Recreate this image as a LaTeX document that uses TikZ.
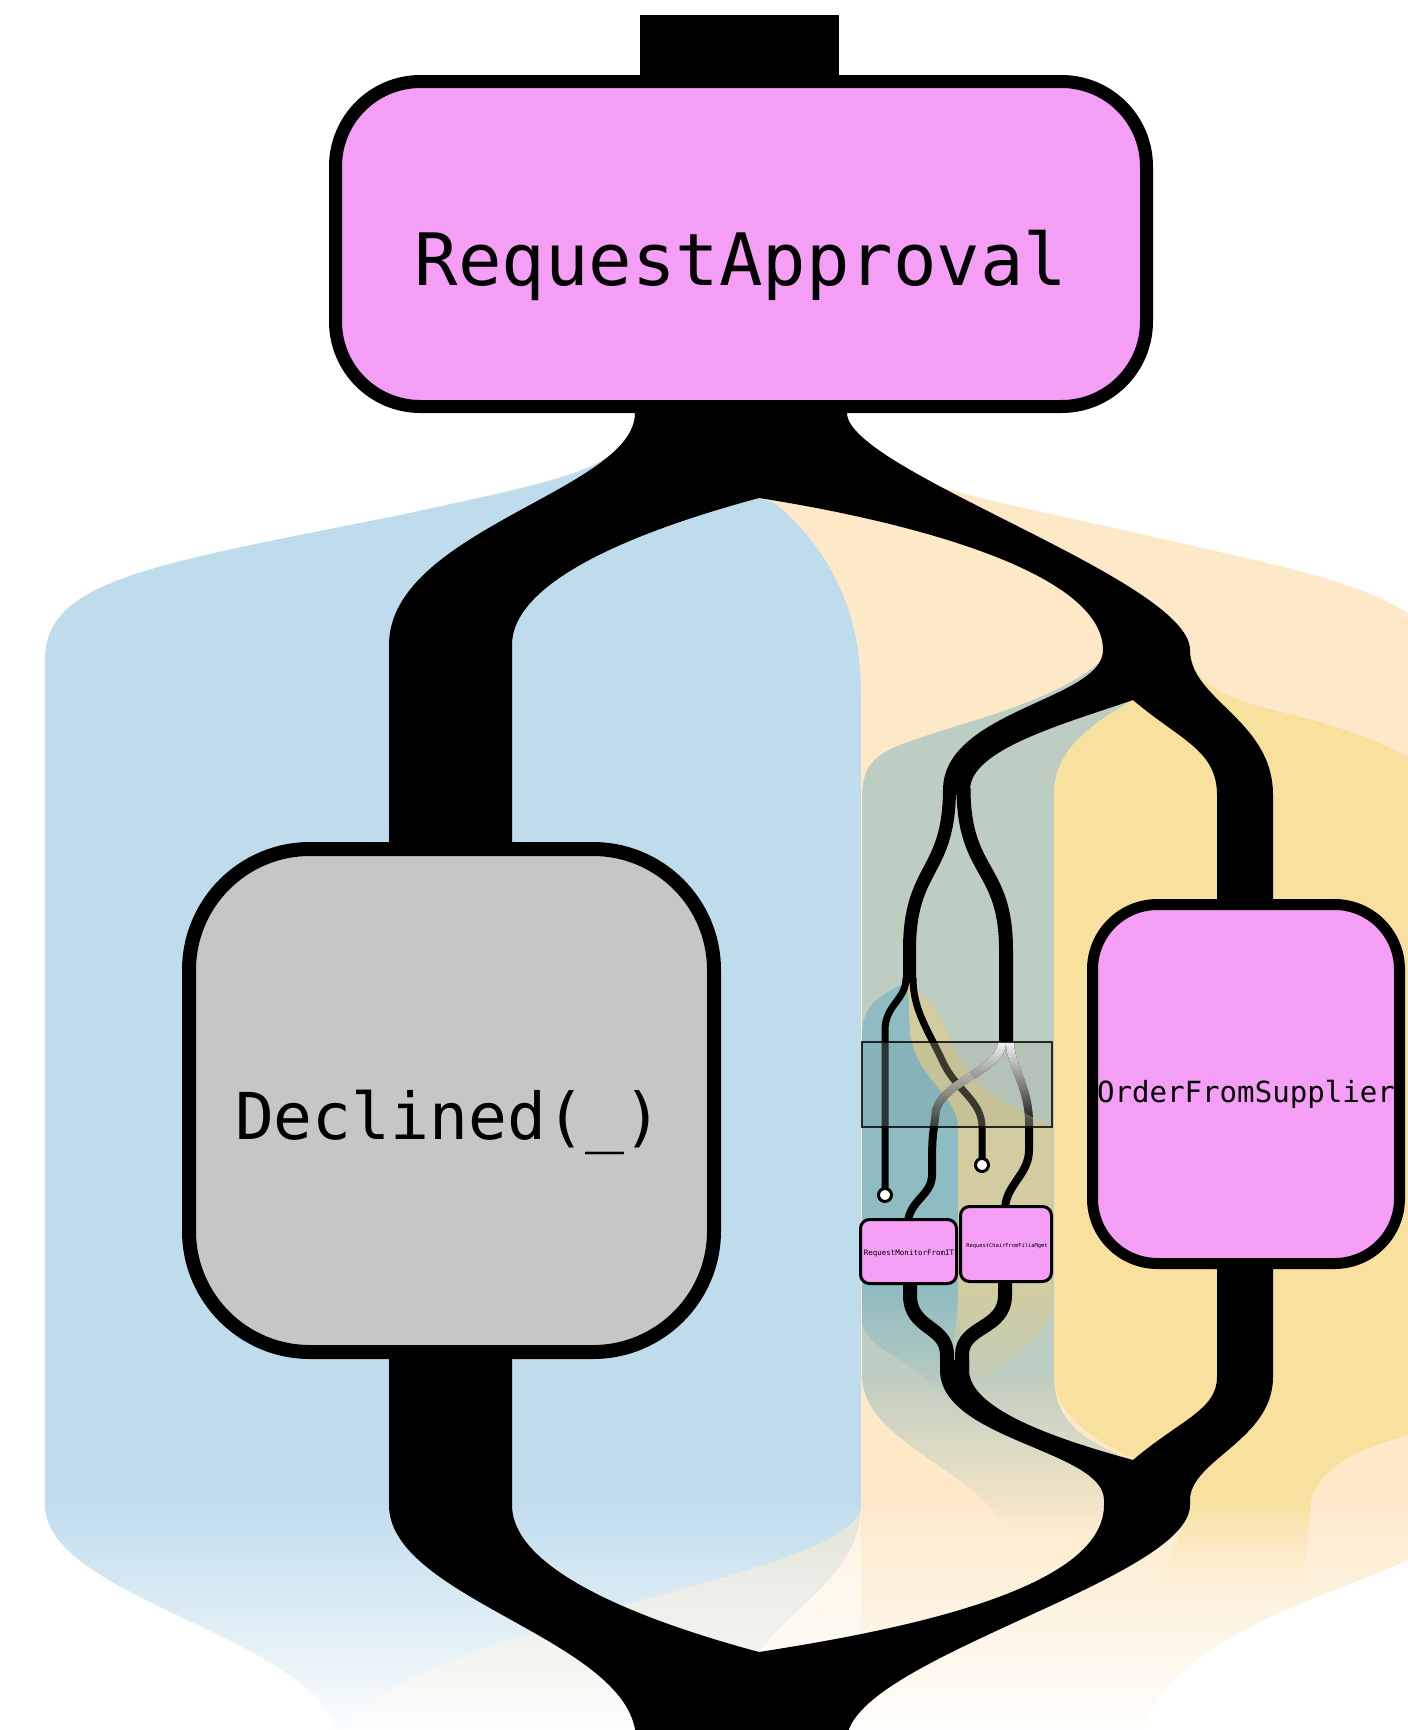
\documentclass[tikz,border=0pt]{standalone}
\usepackage{fontspec}
\newfontfamily\lblfont{DejaVu Sans Mono}
\usetikzlibrary{fadings}
\definecolor{laneblue}{RGB}{191,220,236}
\definecolor{laneorange}{RGB}{253,233,200}
\definecolor{lanegg}{RGB}{190,205,193}
\definecolor{laneyellow}{RGB}{248,224,158}
\definecolor{laneteal}{RGB}{143,188,194}
\definecolor{lanekhaki}{RGB}{210,204,160}
\definecolor{boxpink}{RGB}{245,158,245}
\definecolor{boxgray}{RGB}{198,198,198}
\tikzfading[name=fadeS, top color=transparent!0, bottom color=transparent!100]
\tikzfading[name=fadeN, top color=transparent!100, bottom color=transparent!6]
\begin{document}
\begin{tikzpicture}[x=1pt,y=-1pt,
  flow/.style={fill=black},
  wire/.style={draw=black,line cap=butt},
  pinkbox/.style={draw=black,fill=boxpink,rectangle,inner sep=0},
  graybox/.style={draw=black,fill=boxgray,rectangle,inner sep=0},
  dotnode/.style={circle,draw=black,fill=white,line width=3,minimum size=13,inner sep=0},
  lbl/.style={anchor=base,inner sep=0,text=black}]
\useasboundingbox (0,0) rectangle (1408,1730);
\begin{scope}
\clip (0,0) rectangle (1408,1730);
% blue lane
\fill[laneblue] (759,405) -- (635,405) -- (635,413) .. controls (630,470) and (560,480) .. (400,515) .. controls (150,565) and (45,580) .. (45,660) -- (45,1505) .. controls (45,1600) and (330,1640) .. (337,1740) -- (759,1740) -- (759,1652) .. controls (800,1600) and (861,1570) .. (861,1505) -- (861,690) .. controls (861,600) and (820,540) .. (775,503) -- (759,498) -- cycle;
% orange lane
\fill[laneorange] (759,405) -- (847,405) -- (847,413) .. controls (850,480) and (950,490) .. (1167,540) .. controls (1320,575) and (1408,590) .. (1460,660) -- (1460,1535) -- (1408,1560) .. controls (1320,1600) and (1160,1640) .. (1141,1740) -- (861,1740) -- (861,690) .. controls (861,600) and (820,540) .. (775,503) -- (759,498) -- cycle;
\fill[laneorange, opacity=0.55] (861,1505) .. controls (861,1580) and (400,1620) .. (337,1740) -- (861,1740) -- cycle;
% grey-green lane
\fill[lanegg] (1133,700) -- (1100,662) .. controls (1050,705) and (950,725) .. (900,745) .. controls (870,757) and (862,770) .. (862,800) -- (862,1375) -- (1054,1375) -- (1054,795) .. controls (1054,750) and (1090,725) .. (1133,700) -- cycle;
\fill[lanegg, path fading=fadeS] (862,1374) .. controls (862,1440) and (960,1460) .. (1010,1530) -- (1150,1530) -- (1133,1460) .. controls (1080,1440) and (1054,1420) .. (1054,1374) -- cycle;
% yellow lane
\fill[laneyellow] (1133,700) .. controls (1090,725) and (1054,750) .. (1054,795) -- (1054,1374) .. controls (1054,1420) and (1100,1440) .. (1133,1460) -- (1190,1505) -- (1310,1505) .. controls (1315,1470) and (1360,1440) .. (1460,1425) -- (1460,790) .. controls (1420,760) and (1380,740) .. (1320,722) .. controls (1260,705) and (1200,700) .. (1190,655) -- cycle;
\fill[laneyellow, path fading=fadeS] (1190,1504) -- (1311,1504) .. controls (1308,1540) and (1305,1560) .. (1300,1590) -- (1160,1590) -- cycle;
% teal lane
\fill[laneteal] (907,982) .. controls (880,995) and (862,1005) .. (862,1035) -- (862,1290) -- (958,1290) -- (958,1127) .. controls (958,1095) and (912,1075) .. (910,1030) -- (908,982) -- cycle;
\fill[laneteal, path fading=fadeS] (862,1289) -- (862,1320) .. controls (862,1350) and (920,1360) .. (945,1400) -- (975,1400) .. controls (965,1350) and (958,1330) .. (958,1289) -- cycle;
% khaki lane
\fill[lanekhaki] (908,982) -- (910,1030) .. controls (912,1075) and (958,1095) .. (958,1127) -- (958,1290) -- (1052,1290) -- (1052,1125) .. controls (1000,1105) and (965,1080) .. (950,1040) .. controls (940,1010) and (925,995) .. (910,982) -- cycle;
\fill[lanekhaki, path fading=fadeS] (958,1289) .. controls (958,1330) and (950,1350) .. (940,1400) -- (975,1400) .. controls (1000,1360) and (1052,1340) .. (1052,1300) -- (1052,1289) -- cycle;
% bottom fade
\fill[white, path fading=fadeN] (0,1495) rectangle (1408,1730);
\end{scope}
% black flows
\fill[flow] (640,15) rectangle (839,90);
\fill[flow] (635,405) -- (635,413) .. controls (635,490) and (389,530) .. (389,645) -- (389,850) -- (512,850) -- (512,645) .. controls (512,580) and (640,530) .. (759,498) -- (759,405) -- cycle;
\fill[flow] (759,405) -- (759,498) .. controls (900,520) and (1103,570) .. (1103,650) .. controls (1103,700) and (943,710) .. (943,790) -- (943,795) -- (970,795) -- (970,790) .. controls (970,750) and (1060,725) .. (1133,700) .. controls (1180,740) and (1217,750) .. (1217,795) -- (1217,905) -- (1273,905) -- (1273,795) .. controls (1273,720) and (1190,700) .. (1190,650) .. controls (1190,580) and (847,470) .. (847,413) -- (847,405) -- cycle;
\draw[wire, line width=13] (949.5,788) .. controls (949.5,875) and (909.5,865) .. (909.5,950) -- (909.5,983);
\draw[wire, line width=14] (963.5,788) .. controls (963.5,875) and (1006,865) .. (1006,950) -- (1006,1042.5);
\draw[wire, line width=7] (906,978) .. controls (906,1000) and (885,1005) .. (885,1030) -- (885,1190);
\draw[wire, line width=7] (913,978) .. controls (913,1010) and (928,1030) .. (942,1060) .. controls (955,1090) and (982,1100) .. (982,1127) -- (982,1160);
\draw[wire, line width=8] (1002,1042) .. controls (1002,1070) and (945,1080) .. (936,1110) -- (934,1127) .. controls (932,1140) and (932,1150) .. (932,1175) .. controls (932,1195) and (910,1200) .. (908,1222);
\draw[wire, line width=8] (1010,1042) .. controls (1010,1065) and (1028,1085) .. (1029,1120) -- (1029,1150) .. controls (1029,1175) and (1005,1185) .. (1005,1210);
\draw[wire, line width=14] (910,1280) -- (910,1295) .. controls (910,1330) and (947,1325) .. (947,1355) -- (947,1372);
\draw[wire, line width=14] (1005,1280) -- (1005,1295) .. controls (1005,1330) and (962,1325) .. (962,1355) -- (962,1372);
\fill[flow] (512,1350) -- (389,1350) -- (389,1505) .. controls (389,1600) and (636,1640) .. (636,1740) -- (847,1740) .. controls (847,1660) and (1190,1580) .. (1190,1505) -- (1190,1500) .. controls (1190,1460) and (1273,1440) .. (1273,1377) -- (1273,1260) -- (1217,1260) -- (1217,1377) .. controls (1217,1410) and (1180,1420) .. (1133,1460) .. controls (1060,1440) and (969,1410) .. (969,1370) -- (969,1360) -- (940,1360) -- (940,1370) .. controls (940,1440) and (1104,1450) .. (1104,1500) -- (1104,1505) .. controls (1104,1590) and (900,1630) .. (759,1652) .. controls (640,1620) and (512,1570) .. (512,1505) -- cycle;
% inspection rectangle
\begin{scope}
\clip (862,1042) rectangle (1052,1127);
\fill[laneteal, opacity=.3] (907,982) .. controls (880,995) and (862,1005) .. (862,1035) -- (862,1290) -- (958,1290) -- (958,1127) .. controls (958,1095) and (912,1075) .. (910,1030) -- (908,982) -- cycle;
\fill[lanekhaki, opacity=.3] (908,982) -- (910,1030) .. controls (912,1075) and (958,1095) .. (958,1127) -- (958,1290) -- (1052,1290) -- (1052,1125) .. controls (1000,1105) and (965,1080) .. (950,1040) .. controls (940,1010) and (925,995) .. (910,982) -- cycle;
\fill[black, opacity=.05] (862,1042) rectangle (1052,1127);
\end{scope}
\draw[white, line width=8, path fading=fadeS] (1002,1042) .. controls (1002,1070) and (945,1080) .. (936,1110) -- (934,1127);
\draw[white, line width=8, path fading=fadeS] (1010,1042) .. controls (1010,1065) and (1028,1085) .. (1029,1120) -- (1029,1127);
\draw[black, line width=1.3, opacity=.8] (862,1042) rectangle (1052,1127);
\node[dotnode] (c1) at (885,1195) {};
\node[dotnode] (c2) at (982,1165) {};
% boxes
\node[pinkbox, line width=13, minimum width=811, minimum height=325, rounded corners=85] (ra) at (741,244) {};
\node[lbl] (ratext) at (741,285) {\lblfont\fontsize{72.3}{80}\selectfont RequestApproval};
\node[graybox, line width=14, minimum width=525, minimum height=503, rounded corners=121] (dec) at (451.5,1100.5) {};
\node[lbl] (dectext) at (449,1139) {\lblfont\fontsize{64.6}{70}\selectfont Declined(\_)};
\node[pinkbox, line width=11, minimum width=307, minimum height=359, rounded corners=65] (ofs) at (1246,1084) {};
\node[lbl] (ofstext) at (1246,1102) {\lblfont\fontsize{29.1}{32}\selectfont OrderFromSupplier};
\node[pinkbox, line width=3, minimum width=96, minimum height=64, rounded corners=9] (b1) at (908.5,1251.5) {};
\node[lbl] (b1text) at (909,1255) {\lblfont\fontsize{7.5}{8}\selectfont RequestMonitorFromIT};
\node[pinkbox, line width=3, minimum width=91, minimum height=75, rounded corners=9] (b2) at (1006,1244) {};
\node[lbl] (b2text) at (1007,1247) {\lblfont\fontsize{5.4}{6}\selectfont RequestChairFromFiliaMgmt};
\end{tikzpicture}
\end{document}
